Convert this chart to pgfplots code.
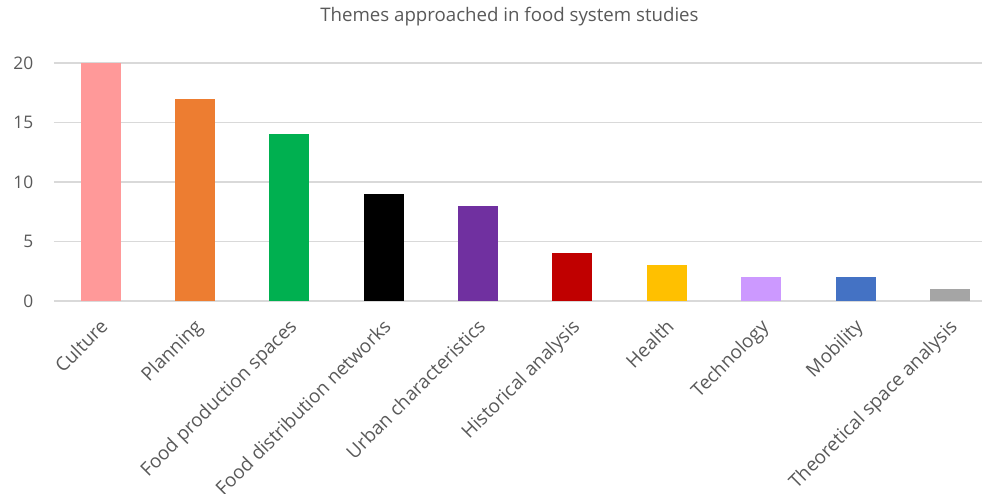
\documentclass[border=0pt]{standalone}
\usepackage{pgfplots}
\pgfplotsset{compat=1.18}
\usepackage{fontspec}
\setmainfont{Open Sans}
\definecolor{txt}{HTML}{595959}
\definecolor{grd}{HTML}{D9D9D9}
\definecolor{c1}{HTML}{FF9999}
\definecolor{c2}{HTML}{ED7D31}
\definecolor{c3}{HTML}{00B050}
\definecolor{c4}{HTML}{000000}
\definecolor{c5}{HTML}{7030A0}
\definecolor{c6}{HTML}{C00000}
\definecolor{c7}{HTML}{FFC000}
\definecolor{c8}{HTML}{CC99FF}
\definecolor{c9}{HTML}{4472C4}
\definecolor{c10}{HTML}{A5A5A5}
\begin{document}
\begin{tikzpicture}
\begin{axis}[
  name=ax,
  scale only axis,
  width=696pt, height=178.5pt,
  xmin=-0.493, xmax=9.34,
  ymin=0, ymax=20,
  ytick={0,5,10,15,20},
  xtick={0,1,2,3,4,5,6,7,8,9},
  xticklabels={Culture,Planning,Food production spaces,Food distribution networks,Urban characteristics,Historical analysis,Health,Technology,Mobility,Theoretical space analysis},
  xticklabel style={rotate=45, anchor=north east, font=\fontsize{14.2}{16}\selectfont, text=txt, inner sep=0pt, xshift=-9.7pt, yshift=-7.8pt},
  yticklabel style={font=\fontsize{13}{15}\selectfont, text=txt, xshift=-12pt},
  /pgf/number format/assume math mode=true,
  ymajorgrids, grid style={grd, line width=0.9pt},
  axis x line*=bottom, axis y line*=left,
  y axis line style={draw=none},
  x axis line style={grd, line width=0.9pt, -},
  major tick length=0pt,
  ybar, bar width=30pt,
  every axis plot/.append style={bar shift=0pt, draw=none},
  clip=false,
]
\addplot[fill=c1] coordinates {(0,20)};
\addplot[fill=c2] coordinates {(1,17)};
\addplot[fill=c3] coordinates {(2,14)};
\addplot[fill=c4] coordinates {(3,9)};
\addplot[fill=c5] coordinates {(4,8)};
\addplot[fill=c6] coordinates {(5,4)};
\addplot[fill=c7] coordinates {(6,3)};
\addplot[fill=c8] coordinates {(7,2)};
\addplot[fill=c9] coordinates {(8,2)};
\addplot[fill=c10] coordinates {(9,1)};
\end{axis}
\node[text=txt, font=\fontsize{14}{16}\selectfont] at ([xshift=341.6pt, yshift=213pt]ax.south west) {Themes approached in food system studies};
\pgfresetboundingbox
\useasboundingbox ([xshift=-40.5pt, yshift=-144.75pt]ax.south west) rectangle ([yshift=47.25pt]ax.north east);
\end{tikzpicture}
\end{document}
